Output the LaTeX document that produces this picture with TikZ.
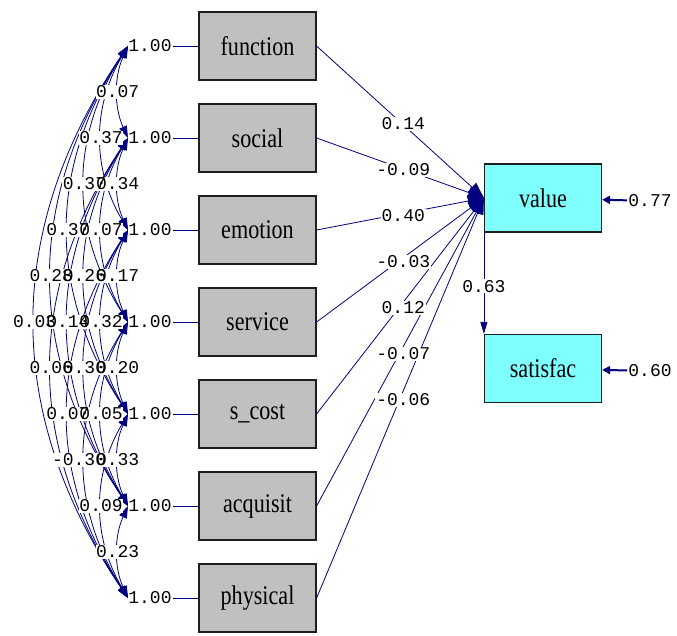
\documentclass[tikz,border=0pt]{standalone}
\usepackage{fontspec}
\usetikzlibrary{arrows.meta,calc}
\newfontfamily\lbfont{Liberation Mono}
\newfontfamily\bxfont[FakeStretch=0.82]{Liberation Serif}
\definecolor{lisnavy}{RGB}{0,0,128}
\definecolor{boxgray}{RGB}{192,192,192}
\definecolor{boxcyan}{RGB}{128,255,255}
\definecolor{boxedge}{RGB}{30,30,30}
\begin{document}
\begin{tikzpicture}[x=1pt,y=-1pt,
  obs/.style={draw=boxedge, line width=1.2pt, fill=boxgray, minimum width=117pt, minimum height=68pt, inner sep=0pt, font=\bxfont\fontsize{27}{30}\selectfont},
  lat/.style={obs, fill=boxcyan},
  lbl/.style={font=\lbfont\fontsize{18}{20}\selectfont, inner sep=1pt, fill=white},
  lblbg/.style={font=\lbfont\fontsize{18}{20}\selectfont, inner sep=0.5pt, fill=white, text opacity=0},
  lbltxt/.style={font=\lbfont\fontsize{18}{20}\selectfont, inner sep=0.5pt},
  varlbl/.style={font=\lbfont\fontsize{18}{20}\selectfont, inner sep=1pt},
  regline/.style={draw=lisnavy, line width=0.8pt, -{Triangle[length=16pt,width=12pt]}},
  covline/.style={draw=lisnavy, line width=0.8pt, {Triangle[length=12pt,width=8pt]}-{Triangle[length=12pt,width=8pt]}},
  errline/.style={draw=lisnavy, line width=2pt, -{Triangle[length=8pt,width=8pt]}},
  pathline/.style={draw=lisnavy, line width=0.8pt, -{Triangle[length=12pt,width=7pt]}},
  varline/.style={draw=lisnavy, line width=0.8pt},
]
\useasboundingbox (0,0) rectangle (677,635);
\fill[white] (0,0) rectangle (677,635);

% latent boxes
\node[lat] (value) at (543,198) {value};
\node[lat] (satisfac) at (543,368.5) {satisfac};

% observed boxes, tips, variances
\foreach \t [count=\i] in {function,social,emotion,service,s\_cost,acquisit,physical} {
  \pgfmathsetmacro\yy{46+92*(\i-1)}
  \node[obs] (b\i) at (257.5,\yy) {\t};
  \coordinate (t\i) at (128,\yy);
  \node[varlbl] (v\i) at (150,\yy) {1.00};
}
\foreach \i in {1,...,7} \draw[varline] (v\i) -- (b\i);

% regression paths
\foreach \i in {1,...,7} \draw[regline] (b\i.east) -- (value.west);

% covariance curves
\foreach \i in {1,...,6} {
  \pgfmathtruncatemacro\js{\i+1}
  \foreach \j in {\js,...,7} {
    \pgfmathsetmacro\cc{4/3*(10.5+16.6*(\j-\i-1))}
    \pgfmathsetmacro\aa{92*(\j-\i)/3}
    \draw[covline] (t\i) .. controls +(-\cc,\aa) and +(-\cc,-\aa) .. (t\j);
  }
}

% covariance labels (background pass, then text pass)
\def\covlist{1/2/0.07,1/3/0.37,1/4/0.37,2/3/0.34,1/5/0.37,2/4/0.07,1/6/0.28,2/5/0.26,3/4/0.17,1/7/0.03,2/6/0.14,3/5/0.32,2/7/0.06,3/6/0.30,4/5/0.20,3/7/0.07,4/6/0.05,4/7/-0.30,5/6/0.33,5/7/0.09,6/7/0.23}
\foreach \st in {lblbg,lbltxt} {
  \foreach \i/\j/\v in \covlist {
    \pgfmathsetmacro\xr{140-16.6*(\j-\i-1)}
    \pgfmathsetmacro\ym{46+46*(\i+\j-2)}
    \node[\st, anchor=east] at (\xr,\ym) {\v};
  }
}

% regression labels
\foreach \i/\v in {1/0.14,2/-0.09,3/0.40,4/-0.03,5/0.12,6/-0.07,7/-0.06}
  \node[lbl] at ($(b\i.east)!0.5!(value.west)+(3,2)$) {\v};

% value -> satisfac
\draw[pathline] (value.south west) -- (satisfac.north west);
\node[lbl] at ($(value.south west)!0.5!(satisfac.north west)+(0,3)$) {0.63};

% error variances
\node[varlbl] (e1) at (650,201) {0.77};
\node[varlbl] (e2) at (650,371) {0.60};
\draw[errline] (e1) -- (value);
\draw[errline] (e2) -- (satisfac);
\end{tikzpicture}
\end{document}
